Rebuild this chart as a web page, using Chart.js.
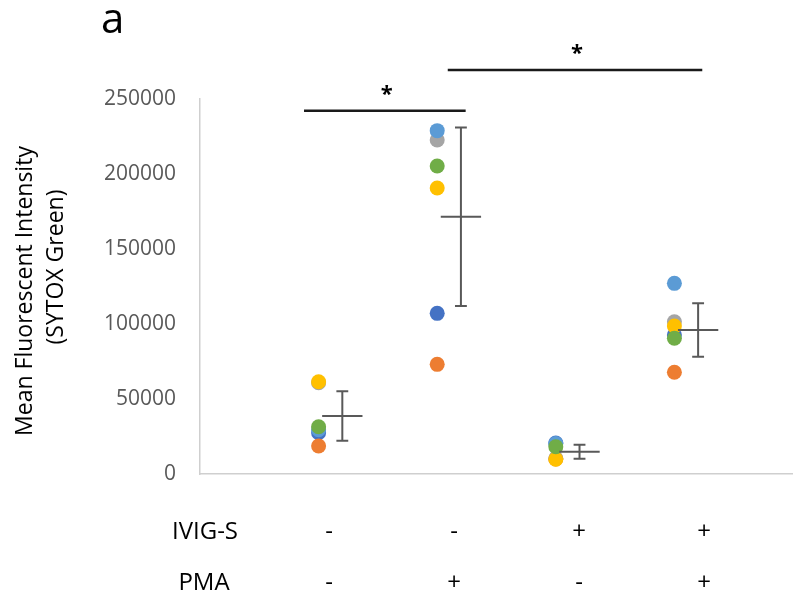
<!DOCTYPE html>
<html>
<head>
<meta charset="utf-8">
<script src="https://cdn.jsdelivr.net/npm/chart.js@4.4.0/dist/chart.umd.min.js"></script>
<style>
  body { margin: 0; background: #fff; }
  #wrap { width: 793px; height: 596px; }
  canvas { display: block; }
</style>
</head>
<body>
<div id="wrap"><canvas id="mfiChart" width="793" height="596"></canvas></div>
<script>
// group positions on the x scale (dots sit at 1..4)
const groupX = [1, 2, 3, 4];
const ivigS = ['-', '-', '+', '+'];
const pma = ['-', '+', '-', '+'];

// one series per donor, values per group
const seriesNames = ['Donor 1', 'Donor 2', 'Donor 3', 'Donor 4', 'Donor 5', 'Donor 6'];
const seriesColors = ['#4472C4', '#ED7D31', '#A5A5A5', '#FFC000', '#5B9BD5', '#70AD47'];
const donor1 = [27500, 107100, 20600, 92700];
const donor2 = [18700, 73100, 10000, 67800];
const donor3 = [60800, 222700, 10500, 101500];
const donor4 = [61500, 190700, 9800, 98700];
const donor5 = [29500, 228900, 20300, 127100];
const donor6 = [31500, 205300, 18200, 90500];
const donorValues = [donor1, donor2, donor3, donor4, donor5, donor6];

// mean and error
const means = [38700, 171500, 14900, 96000];
const errors = [16450, 59550, 4650, 17800];

const yTicks = [0, 50000, 100000, 150000, 200000, 250000];

// significance brackets: [xStart, xEnd, yValue]
const brackets = [
    [0.877, 2.24, 242200],
    [2.089, 4.235, 269300]
];

const FONT = "'Open Sans', sans-serif";

const datasets = donorValues.map((vals, i) => ({
    label: seriesNames[i],
    data: vals.map((v, g) => ({ x: groupX[g], y: v })),
    backgroundColor: seriesColors[i],
    borderWidth: 0,
    pointRadius: 7.5,
    order: donorValues.length - 1 - i   // later series on top, like Excel
}));

const extrasPlugin = {
    id: 'extras',
    afterDatasetsDraw(chart) {
        const ctx = chart.ctx;
        const xs = chart.scales.x, ys = chart.scales.y;
        const area = chart.chartArea;

        // mean lines + error bars
        ctx.save();
        ctx.strokeStyle = '#595959';
        ctx.lineWidth = 2;
        means.forEach((m, g) => {
            const cx = xs.getPixelForValue(groupX[g] + 0.2);
            const half = xs.getPixelForValue(groupX[g] + 0.37) - cx;
            const cap = xs.getPixelForValue(groupX[g] + 0.25) - cx;
            const yTop = ys.getPixelForValue(m + errors[g]);
            const yBot = ys.getPixelForValue(m - errors[g]);
            const yMean = ys.getPixelForValue(m);
            ctx.beginPath();
            ctx.moveTo(cx, yTop); ctx.lineTo(cx, yBot);
            ctx.moveTo(cx - cap, yTop); ctx.lineTo(cx + cap, yTop);
            ctx.moveTo(cx - cap, yBot); ctx.lineTo(cx + cap, yBot);
            ctx.moveTo(cx - half, yMean); ctx.lineTo(cx + half, yMean);
            ctx.stroke();
        });
        ctx.restore();

        // significance lines and stars
        ctx.save();
        ctx.strokeStyle = '#1a1a1a';
        ctx.lineWidth = 2.5;
        ctx.fillStyle = '#000';
        ctx.font = "bold 22px " + FONT;
        ctx.textAlign = 'center';
        ctx.textBaseline = 'middle';
        brackets.forEach(b => {
            const x1 = xs.getPixelForValue(b[0]);
            const x2 = xs.getPixelForValue(b[1]);
            const y = ys.getPixelForValue(b[2]);
            ctx.beginPath();
            ctx.moveTo(x1, y); ctx.lineTo(x2, y);
            ctx.stroke();
            ctx.fillText('*', (x1 + x2) / 2 + 2, y - 16);
        });
        ctx.restore();

        // panel letter
        ctx.save();
        ctx.fillStyle = '#000';
        ctx.font = "42px " + FONT;
        ctx.textBaseline = 'alphabetic';
        ctx.fillText('a', 101, 33);
        ctx.restore();

        // y axis title (two lines, rotated)
        ctx.save();
        ctx.fillStyle = '#000';
        ctx.font = "23px " + FONT;
        ctx.textAlign = 'center';
        ctx.textBaseline = 'middle';
        ctx.translate(25, 291);
        ctx.rotate(-Math.PI / 2);
        ctx.fillText('Mean Fluorescent Intensity', 0, 0);
        ctx.fillText('(SYTOX Green)', 24, 31);
        ctx.restore();

        // condition rows under the axis
        ctx.save();
        ctx.fillStyle = '#000';
        ctx.font = "24px " + FONT;
        ctx.textAlign = 'center';
        ctx.textBaseline = 'middle';
        ctx.fillText('IVIG-S', 205, 532);
        ctx.fillText('PMA', 204, 583);
        ivigS.forEach((s, g) => {
            const x = area.left + 129 + g * 125;
            ctx.fillText(s, x, 532);
            ctx.fillText(pma[g], x, 583);
        });
        ctx.restore();
    }
};

new Chart(document.getElementById('mfiChart'), {
    type: 'scatter',
    data: { datasets },
    options: {
        responsive: false,
        animation: false,
        layout: { autoPadding: false, padding: { top: 99, left: 0, right: 0, bottom: 0 } },
        plugins: { legend: { display: false }, tooltip: { enabled: false } },
        scales: {
            x: {
                type: 'linear',
                min: 0,
                max: 5,
                grid: { display: false, drawTicks: false },
                ticks: { display: false },
                border: { display: true, color: '#cfcfcf', width: 1.5 },
                afterFit: s => { s.height = 122; }
            },
            y: {
                min: 0,
                max: 250000,
                grid: { display: false, drawTicks: false },
                border: { display: true, color: '#cfcfcf', width: 1.5 },
                afterBuildTicks: s => { s.ticks = yTicks.map(v => ({ value: v })); },
                ticks: {
                    color: '#595959',
                    font: { family: FONT, size: 21 },
                    padding: 24,
                    callback: v => String(v)
                },
                afterFit: s => { s.width = 200; }
            }
        }
    },
    plugins: [extrasPlugin]
});
</script>
</body>
</html>
